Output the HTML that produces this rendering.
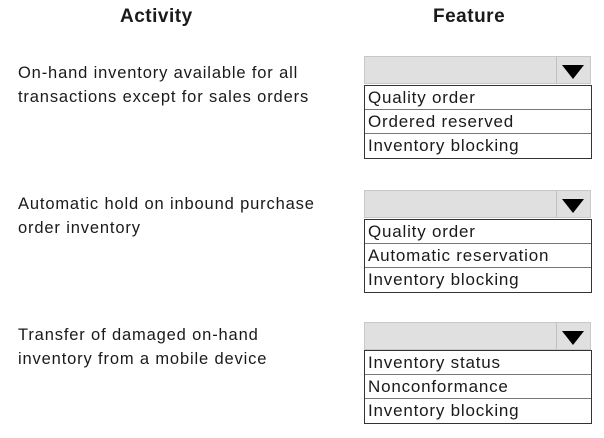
<!DOCTYPE html>
<html><head><style>
body{margin:0;width:604px;height:438px;background:#fff;position:relative;font-family:"Liberation Sans",sans-serif;color:#1a1a1a;overflow:hidden}
.h{position:absolute;top:6px;font-weight:bold;font-size:19px;letter-spacing:0.5px}
.a{position:absolute;left:18px;font-size:16.5px;line-height:24px;white-space:nowrap;letter-spacing:0.85px}
.dd{position:absolute;left:364px;width:227px;height:28px;background:#e0e0e0;border:1px solid #c8c8c8;box-sizing:border-box}
.dd .sep{position:absolute;left:191px;top:0;width:1px;height:100%;background:#c0c0c0}
.dd .tri{position:absolute;left:197px;top:8px;width:0;height:0;border-left:11px solid transparent;border-right:11px solid transparent;border-top:14px solid #000}
.ls{position:absolute;left:364px;width:228px;border:1.5px solid #333;box-sizing:border-box}
.ls div{height:24px;line-height:24px;font-size:17px;padding-left:3px;border-bottom:1px solid #777;box-sizing:border-box;white-space:nowrap;letter-spacing:0.8px}
.ls div:last-child{border-bottom:none}
</style></head><body>
<div class="h" style="left:120px">Activity</div>
<div class="h" style="left:433px">Feature</div>

<div class="a" style="top:61px">On-hand inventory available for all<br>transactions except for sales orders</div>
<div class="dd" style="top:56px"><div class="sep"></div><div class="tri"></div></div>
<div class="ls" style="top:85px"><div>Quality order</div><div>Ordered reserved</div><div>Inventory blocking</div></div>

<div class="a" style="top:192px">Automatic hold on inbound purchase<br>order inventory</div>
<div class="dd" style="top:190px"><div class="sep"></div><div class="tri"></div></div>
<div class="ls" style="top:219px"><div>Quality order</div><div>Automatic reservation</div><div>Inventory blocking</div></div>

<div class="a" style="top:323px">Transfer of damaged on-hand<br>inventory from a mobile device</div>
<div class="dd" style="top:322px"><div class="sep"></div><div class="tri"></div></div>
<div class="ls" style="top:350px"><div>Inventory status</div><div>Nonconformance</div><div>Inventory blocking</div></div>
</body></html>
